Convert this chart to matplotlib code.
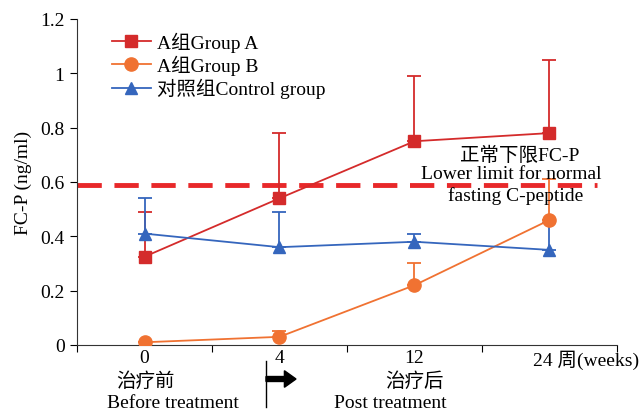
import matplotlib
matplotlib.use("Agg")
import matplotlib.pyplot as plt
from matplotlib.lines import Line2D
from matplotlib.patches import FancyArrow
import numpy as np

plt.rcParams['font.family'] = ['Liberation Serif', 'Noto Sans CJK SC']
plt.rcParams['font.size'] = 14

# tempos e valores de FC-P
semanas = ['0', '4', '12', '24']
grupo_a = [0.325, 0.54, 0.75, 0.78]
grupo_a_erro = [0.165, 0.24, 0.24, 0.27]
grupo_b = [0.01, 0.03, 0.22, 0.46]
grupo_b_erro = [0.0, 0.02, 0.08, 0.15]
controle = [0.41, 0.36, 0.38, 0.35]
controle_erro = [0.13, 0.13, 0.03, 0.10]
limite = 0.59

cor_a = '#d42b2b'
cor_b = '#f07232'
cor_c = '#3566bd'

fig = plt.figure(figsize=(6.44, 4.14), dpi=100)
ax = fig.add_axes([0.1196, 0.1643, 0.8384, 0.7874])

x = np.arange(len(semanas)) + 0.5

handles = []
def serie(y, e, cor, marcador, ms, nome):
    ax.errorbar(x, y, yerr=[np.zeros(len(e)), e], color=cor, lw=1.3,
                marker=marcador, ms=ms, capsize=5, capthick=1.3,
                elinewidth=1.3, zorder=3)
    handles.append(Line2D([], [], color=cor, lw=1.3, marker=marcador,
                          ms=ms, label=nome))

serie(grupo_a, grupo_a_erro, cor_a, 's', 9, 'A组Group A')
serie(grupo_b, grupo_b_erro, cor_b, 'o', 9.5, 'A组Group B')
serie(controle, controle_erro, cor_c, '^', 9, '对照组Control group')

# linha do limite inferior normal
ax.plot([0, 3.85], [limite, limite], color='#e8282a', lw=3.5,
        dashes=(5, 2.6), zorder=2)
ax.text(3.28, 0.699, '正常下限FC-P', ha='center', va='center', fontsize=14)
ax.text(3.22, 0.632, 'Lower limit for normal', ha='center', va='center',
        fontsize=14)
ax.text(3.25, 0.553, 'fasting C-peptide', ha='center', va='center',
        fontsize=14)

ax.set_xlim(0, 4)
ax.set_ylim(0, 1.2)
ax.set_yticks([0, 0.2, 0.4, 0.6, 0.8, 1, 1.2])
ax.set_yticklabels(['0', '0.2', '0.4', '0.6', '0.8', '1', '1.2'])
ax.set_xticks([0, 1, 2, 3, 4])
ax.set_xticklabels([])
ax.set_xticks(x, minor=True)
ax.set_xticklabels(['0', '4', '12', ''], minor=True)
ax.tick_params(axis='x', which='minor', length=0, pad=3)
ax.tick_params(axis='x', which='major', direction='out', length=5)
ax.tick_params(axis='y', direction='out', length=5, pad=4)
ax.spines['top'].set_visible(False)
ax.spines['right'].set_visible(False)
for s in ['left', 'bottom']:
    ax.spines[s].set_color('#333333')
ax.set_ylabel('FC-P (ng/ml)', fontsize=14, labelpad=6)

ax.annotate('24 周(weeks)', xy=(3.38, 0), xycoords=('data', 'axes fraction'),
            xytext=(0, -3.5), textcoords='offset points', ha='left', va='top',
            fontsize=14)

# textos abaixo do eixo
fig.text(145 / 644, 1 - 382 / 414, '治疗前', ha='center', va='center', fontsize=14)
fig.text(173 / 644, 1 - 404 / 414, 'Before treatment', ha='center',
         va='center', fontsize=14)
fig.text(414 / 644, 1 - 382 / 414, '治疗后', ha='center', va='center', fontsize=14)
fig.text(390 / 644, 1 - 404 / 414, 'Post treatment', ha='center',
         va='center', fontsize=14)
fig.add_artist(Line2D([266 / 644, 266 / 644], [1 - 362 / 414, 1 - 408 / 414],
                      color='black', lw=1))
fig.add_artist(FancyArrow(266 / 644, 1 - 380 / 414, 30 / 644, 0,
                          width=0.012, head_width=0.04, head_length=0.018,
                          length_includes_head=True, color='black'))

ax.legend(handles=handles, loc='upper left', bbox_to_anchor=(0.05, 0.985),
          frameon=False, handlelength=2.0, handletextpad=0.3,
          labelspacing=0.15, fontsize=14, borderaxespad=0)

fig.savefig('out.png', dpi=100)
